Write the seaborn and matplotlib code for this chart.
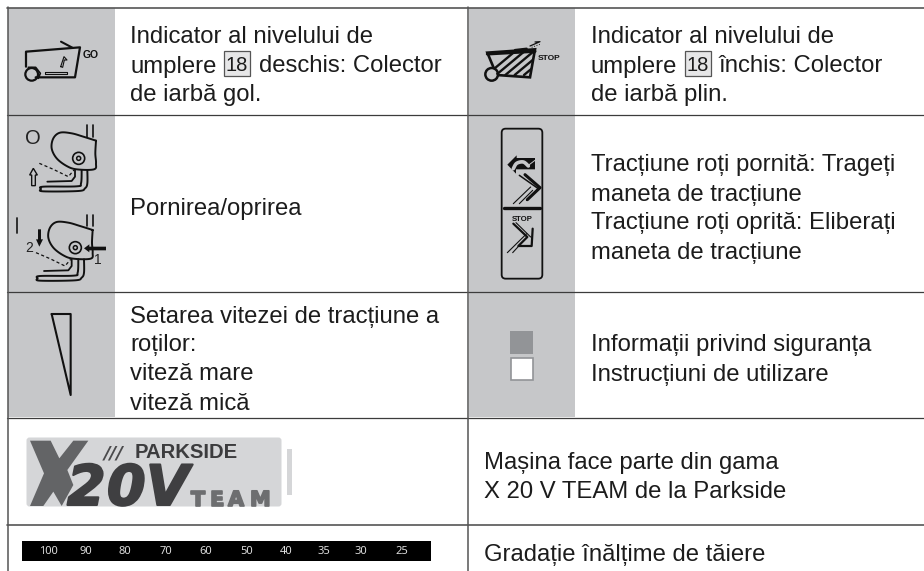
import numpy as np
import seaborn as sns
from matplotlib import pyplot as plt
from matplotlib import patheffects as pe
from matplotlib.lines import Line2D
from matplotlib.patches import Circle, FancyBboxPatch, Polygon, Rectangle

#Text of the table
row1_left = ["Indicator al nivelului de", "umplere", "deschis: Colector", "de iarbă gol."]
row1_right = ["Indicator al nivelului de", "umplere", "închis: Colector", "de iarbă plin."]
row2_left = ["Pornirea/oprirea"]
row2_right = ["Tracțiune roți pornită: Trageți", "maneta de tracțiune",
              "Tracțiune roți oprită: Eliberați", "maneta de tracțiune"]
row3_left = ["Setarea vitezei de tracțiune a", "roților:", "viteză mare", "viteză mică"]
row3_right = ["Informații privind siguranța", "Instrucțiuni de utilizare"]
row4_right = ["Mașina face parte din gama", "X 20 V TEAM de la Parkside"]
row5_right = ["Gradație înălțime de tăiere"]
ref_number = "18"
gauge_labels = ["100", "90", "80", "70", "60", "50", "40", "35", "30", "25"]

#Preferences
sns.set_style("white")
plt.rcParams['font.family'] = ['Liberation Sans', 'DejaVu Sans']
text_col = "#1c1c1c"
cell_col = "#c6c7c9"
line_col = "#3c3c3c"
fs = 17.2

fig = plt.figure(figsize=(9.24, 5.71), dpi=100)
ax = fig.add_axes([0, 0, 1, 1])
ax.set_xlim(0, 924)
ax.set_ylim(571, 0)
sns.despine(ax=ax, left=True, bottom=True)
ax.axis("off")

def write(x, y, txt, size=fs, **kw):
    kw.setdefault("color", text_col)
    return ax.text(x, y, txt, fontsize=size, va="baseline", **kw)

def body(x, y, txt):
    #cell text sits a little lower than the measured baselines
    return write(x, y + 1.5, txt)

def zoomed(pts, ox, oy):
    #crop coordinates (3x) to picture pixels
    pts = np.array(pts, dtype=float)
    return pts[:, 0] / 3 + ox, pts[:, 1] / 3 + oy

def smooth(pts, n=10):
    #Catmull-Rom through the given points
    pts = np.array(pts, dtype=float)
    p = np.vstack([pts[0], pts, pts[-1]])
    out = []
    for i in range(1, len(p) - 2):
        for t in np.linspace(0, 1, n, endpoint=False):
            out.append(0.5 * (2 * p[i] + (p[i + 1] - p[i - 1]) * t
                              + (2 * p[i - 1] - 5 * p[i] + 4 * p[i + 1] - p[i + 2]) * t ** 2
                              + (3 * p[i] - p[i - 1] - 3 * p[i + 1] + p[i + 2]) * t ** 3))
    out.append(pts[-1])
    return np.array(out)

def stroke(pts, ox, oy, lw=1.2, col="#111111", ls="-", dx=0, dy=0, clip=None):
    pts = np.array(pts, dtype=float) + [dx, dy]
    xs, ys = zoomed(pts, ox, oy)
    line = ax.add_line(Line2D(xs, ys, lw=lw, color=col, ls=ls, solid_capstyle="round", solid_joinstyle="round"))
    if clip is not None:
        line.set_clip_path(clip)

def fill(pts, ox, oy, col="#111111", dx=0, dy=0, edge="none", lw=0):
    pts = np.array(pts, dtype=float) + [dx, dy]
    xs, ys = zoomed(pts, ox, oy)
    return ax.add_patch(Polygon(np.column_stack([xs, ys]), closed=True, facecolor=col, edgecolor=edge, lw=lw))

def ring(cx, cy, r, ox, oy, lw=1.2, face="none"):
    ax.add_patch(Circle((cx / 3 + ox, cy / 3 + oy), r / 3, facecolor=face, edgecolor="#111111", lw=lw))

#Grey icon cells
ax.add_patch(Rectangle((8, 8), 107, 409, color=cell_col, lw=0))
ax.add_patch(Rectangle((469, 8), 106, 409, color=cell_col, lw=0))

#Table rules
ax.add_line(Line2D([7, 924], [7.5, 7.5], lw=1.2, color="#555555"))
for y, lw in [(115, 0.9), (292, 0.9), (417.5, 0.9), (525, 1.2)]:
    ax.add_line(Line2D([7, 924], [y, y], lw=lw, color=line_col if lw < 1 else "#555555"))
for x in [7.5, 468]:
    ax.add_line(Line2D([x, x], [7, 571], lw=1.1, color="#555555"))

#Cell text
body(130, 41.5, row1_left[0])
body(130, 71, row1_left[1])
body(259, 71, row1_left[2])
body(130, 100, row1_left[3])
body(591, 41.5, row1_right[0])
body(591, 71, row1_right[1])
body(719, 71, row1_right[2])
body(591, 100, row1_right[3])
for bx in [223.5, 685]:
    ax.add_patch(Rectangle((bx, 50.5), 26, 25.5, facecolor="#e6e6e7", edgecolor="#555555", lw=0.9))
    write(bx + 13, 71, ref_number, size=14.5, ha="center")

body(130, 213, row2_left[0])
for y, txt in zip([170, 199, 228, 257], row2_right):
    body(591, y, txt)
for y, txt in zip([321, 350, 379, 408], row3_left):
    body(130, y, txt)
for y, txt in zip([350, 379], row3_right):
    body(591, y, txt)
for y, txt in zip([467, 496], row4_right):
    body(484, y, txt)
body(484, 560, row5_right[0])

#GO cart icon
ox, oy = 15, 30
stroke([(33, 110), (33, 65), (195, 52), (180, 142), (62, 142)], ox, oy, lw=1.6)
stroke([(138, 35), (172, 53)], ox, oy, lw=1.5)
ring(50, 133, 19, ox, oy, lw=1.6)
stroke([(40, 112), (62, 112), (76, 130), (70, 145)], ox, oy, lw=1.2)
stroke([(90, 126), (155, 126), (155, 132), (90, 132), (90, 126)], ox, oy, lw=0.8)
stroke([(137, 110), (147, 80), (156, 90), (148, 90), (143, 112), (137, 110)], ox, oy, lw=0.8)
write(91, 58, "GO", size=7.5, weight="bold", ha="center", color="#111111")

#STOP cart icon
ox, oy = 480, 30
frame = fill([(22, 68), (165, 58), (150, 142), (50, 135)], ox, oy, edge="#111111", lw=1.9, col=cell_col)
for k in range(7):
    stroke([(20 + k * 28, 135), (110 + k * 28, 60)], ox, oy, lw=1.7, clip=frame)
stroke([(22, 72), (165, 64)], ox, oy, lw=2.2)
stroke([(105, 60), (140, 56)], ox, oy, lw=1.6)
stroke([(150, 48), (180, 35), (165, 36)], ox, oy, lw=0.9)
stroke([(155, 52), (182, 42)], ox, oy, lw=0.7, ls=":")
ring(35, 133, 19, ox, oy, lw=1.8, face=cell_col)
write(549, 60, "STOP", size=6, weight="bold", ha="center", color="#111111")

#On/off handle icons
ox, oy = 10, 120
blob = [(258, 62), (220, 50), (185, 40), (150, 38), (130, 55), (125, 85), (140, 115),
        (170, 138), (200, 148), (252, 148), (258, 130), (256, 100), (258, 62)]
outer_bar = [(232, 150), (232, 190), (225, 205), (205, 213), (100, 214), (93, 207), (100, 200),
             (200, 199), (213, 190), (215, 150)]
for dx, dy, stem in [(0, 0, [(232, 15), (250, 15)]), (-10, 268, [(230, 17), (250, 17)])]:
    stroke(smooth(blob), ox, oy, lw=1.4, dx=dx, dy=dy)
    ring(206 + dx, 115 + dy, 18, ox, oy, lw=1.2)
    ring(206 + dx, 115 + dy, 6, ox, oy, lw=1.1)
    stroke(smooth(outer_bar), ox, oy, lw=1.4, dx=dx, dy=dy)
    stroke([(195, 150), (195, 170), (185, 183), (112, 185)], ox, oy, lw=1.3, dx=dx, dy=dy)
    stroke([(88, 130), (130, 148), (175, 170), (192, 150)], ox, oy, lw=0.9, ls=(0, (2.5, 2)), dx=dx, dy=dy)
    for sx, sy in stem:
        stroke([(sx, sy + dy), (sx, 50 + dy)], ox, oy, lw=1.2, dx=0)
write(33, 144, "O", size=14.5, ha="center", color="#222222")
fill([(70, 145), (82, 165), (76, 165), (76, 197), (65, 197), (65, 165), (59, 165)], ox, oy,
     col=cell_col, edge="#111111", lw=1.0)
stroke([(22, 293), (22, 340)], ox, oy, lw=1.3, col="#222222")
fill([(88, 380), (78, 358), (84, 358), (84, 328), (93, 328), (93, 358), (99, 358)], ox, oy)
fill([(222, 385), (238, 373), (238, 380), (288, 380), (288, 391), (238, 391), (238, 397)], ox, oy)
write(29, 252, "2", size=10, ha="center", color="#222222")
write(98, 264, "1", size=10, ha="center", color="#222222")

#Drive lever icon
ox, oy = 490, 122
ax.add_patch(FancyBboxPatch((490 + 35 / 3 + 3, 122 + 20 / 3 + 3), 122 / 3 - 6, 450 / 3 - 6,
                            boxstyle="round,pad=3,rounding_size=4", fc="none", ec="#111111", lw=1.3))
stroke([(42, 259), (150, 259)], ox, oy, lw=2.4)
fill([(52, 128), (80, 100), (80, 108), (135, 108), (135, 142), (78, 142), (78, 155)], ox, oy)
stroke(smooth([(70, 140), (80, 124), (100, 120), (115, 132)]), ox, oy, lw=2.6, col=cell_col)
stroke([(115, 130), (135, 115)], ox, oy, lw=0.7, col=cell_col)
stroke([(88, 160), (145, 200), (110, 235)], ox, oy, lw=1.1)
stroke([(105, 158), (150, 197), (112, 233)], ox, oy, lw=2.2)
stroke([(70, 245), (122, 195)], ox, oy, lw=0.8)
stroke([(88, 245), (128, 205)], ox, oy, lw=0.8)
write(490 + 97 / 3, 122 + 296 / 3, "STOP", size=5.6, weight="bold", ha="center", color="#111111")
stroke([(70, 305), (112, 345), (85, 372), (125, 372), (128, 320)], ox, oy, lw=1.6)
stroke([(78, 302), (122, 345)], ox, oy, lw=0.8)
stroke([(52, 392), (110, 335)], ox, oy, lw=0.8)
stroke([(68, 392), (90, 368)], ox, oy, lw=0.8)

#Speed wedge
ox, oy = 0, 285
stroke([(155, 87), (212, 87), (212, 330), (155, 87)], ox, oy, lw=1.5)

#Manual squares
ax.add_patch(Rectangle((462 + 145 / 3, 285 + 138 / 3), 23, 22.5, color="#929497", lw=0))
ax.add_patch(Rectangle((462 + 147 / 3, 285 + 219 / 3), 21.5, 21.5, facecolor="white", edgecolor="#929497", lw=1.2))

#X 20 V TEAM logo
ox, oy = 20, 430
ax.add_patch(FancyBboxPatch((28, 439), 252, 66, boxstyle="round,pad=1.5,rounding_size=3", color="#d5d6d8", lw=0))
ax.add_patch(Rectangle((287, 449), 4.5, 46, color="#d5d6d8", lw=0))
fill([(30, 32), (92, 32), (118, 85), (160, 32), (205, 32), (142, 120), (160, 165), (125, 228),
      (100, 185), (70, 228), (30, 228), (72, 130)], ox, oy, col="#636466")
write(104, 458, "///", size=13, weight="bold", style="italic", color="#4a4a4c", family="DejaVu Sans")
write(135, 458, "PARKSIDE", size=14.6, weight="bold", color="#3c3c3e")
for lx, digit in zip([67, 107, 146], "20V"):
    t = write(lx, 505, digit, size=40, weight="bold", style="italic", color="#3f3f41", family="DejaVu Sans")
    t.set_path_effects([pe.withStroke(linewidth=1.5, foreground="#3f3f41")])
for lx, letter in zip([191, 210, 228, 250], "TEAM"):
    t = write(lx, 506, letter, size=15, weight="bold", color="#6d6e70", family="DejaVu Sans")
    t.set_path_effects([pe.withStroke(linewidth=1.2, foreground="#6d6e70")])

#Cutting height gauge
ax.add_patch(Rectangle((22, 541), 409, 20, color="black", lw=0))
for gx, lab in zip([48, 86, 125, 166, 206, 247, 286, 324, 361, 402], gauge_labels):
    ax.text(gx, 554.5, lab, fontsize=8, color="#dddddd", ha="center", va="baseline", family="Noto Sans")

fig.savefig("out.png", dpi=100, facecolor="white")
